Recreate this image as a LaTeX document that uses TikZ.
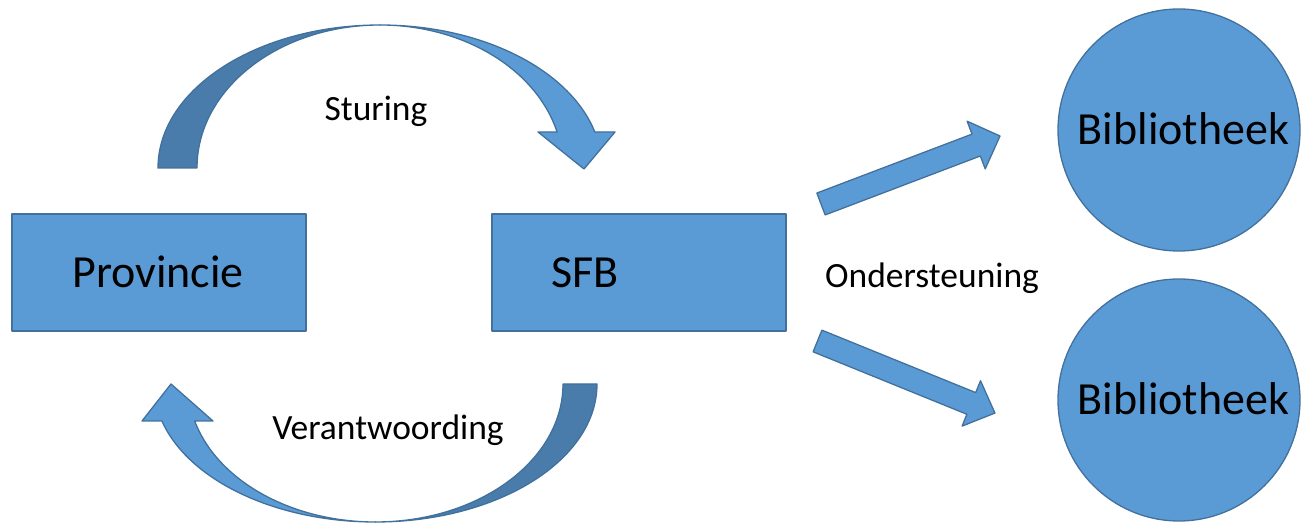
\documentclass[tikz,border=0pt]{standalone}
\usepackage{fontspec}
\setmainfont{Carlito}
\definecolor{boxfill}{HTML}{5B9BD5}
\definecolor{boxline}{HTML}{41719C}
\definecolor{darkfill}{HTML}{497CAA}
\begin{document}
\begin{tikzpicture}[x=1pt,y=1pt,
  blueshape/.style={fill=boxfill,draw=boxline,line width=1.3pt,line join=round},
  darkshape/.style={fill=darkfill,draw=boxline,line width=1.3pt,line join=round},
  box/.style={blueshape,rectangle,minimum width=294pt,minimum height=117pt,inner sep=0pt},
  lib/.style={blueshape,circle,minimum size=242pt,inner sep=0pt},
  bigtxt/.style={inner sep=0pt,anchor=base,font=\fontsize{46}{50}\selectfont},
  smalltxt/.style={inner sep=0pt,anchor=base,font=\fontsize{35.5}{40}\selectfont}]
\useasboundingbox (0,0) rectangle (1301,524);
\clip (0,0) rectangle (1301,524);

% boxes
\node[box] (prov) at (159,251.5) {};
\node[box] (sfb) at (639,251.5) {};
\node[bigtxt] (provtxt) at (158,236) {Provincie};
\node[bigtxt] (sfbtxt) at (585,236) {SFB};

% circles
\node[lib] (lib1) at (1179,394) {};
\node[lib] (lib2) at (1179,124) {};
\node[bigtxt] (lib1txt) at (1183.5,379) {Bibliotheek};
\node[bigtxt] (lib2txt) at (1183.5,109) {Bibliotheek};

% top curved arrow (Sturing)
\draw[darkshape] (158,356) arc[start angle=180,end angle=90,x radius=222,y radius=143]
  arc[start angle=90,end angle=180,x radius=183,y radius=143] -- cycle;
\draw[blueshape] (380,499) arc[start angle=90,end angle=14.58,x radius=222,y radius=143]
  -- (615,392) -- (584,355) -- (538,392) -- (557.1,392)
  arc[start angle=14.58,end angle=90,x radius=183,y radius=143] -- cycle;

% bottom curved arrow (Verantwoording)
\draw[darkshape] (597,140) arc[start angle=0,end angle=-90,x radius=221.6,y radius=138]
  arc[start angle=-90,end angle=0,x radius=187.6,y radius=138] -- cycle;
\draw[blueshape] (375.4,2) arc[start angle=-90,end angle=-164.45,x radius=221.6,y radius=138]
  -- (142,103) -- (171,140) -- (213,103) -- (194.7,103)
  arc[start angle=-164.45,end angle=-90,x radius=187.6,y radius=138] -- cycle;

% straight arrows
\begin{scope}[shift={(821,320)},rotate=20.8]
  \draw[blueshape] (0,-11.7) -- (166,-11.7) -- (166,-25.5) -- (191.5,0) -- (166,25.5) -- (166,11.7) -- (0,11.7) -- cycle;
\end{scope}
\begin{scope}[shift={(817.5,183)},rotate=-22.1]
  \draw[blueshape] (0,-11.7) -- (166,-11.7) -- (166,-24.5) -- (191.5,0) -- (166,24.5) -- (166,11.7) -- (0,11.7) -- cycle;
\end{scope}

% labels
\node[smalltxt] (sturing) at (376,403) {Sturing};
\node[smalltxt] (verant) at (388,84) {Verantwoording};
\node[smalltxt,anchor=base west] (onder) at (825,236.7) {Ondersteuning};
\end{tikzpicture}
\end{document}
